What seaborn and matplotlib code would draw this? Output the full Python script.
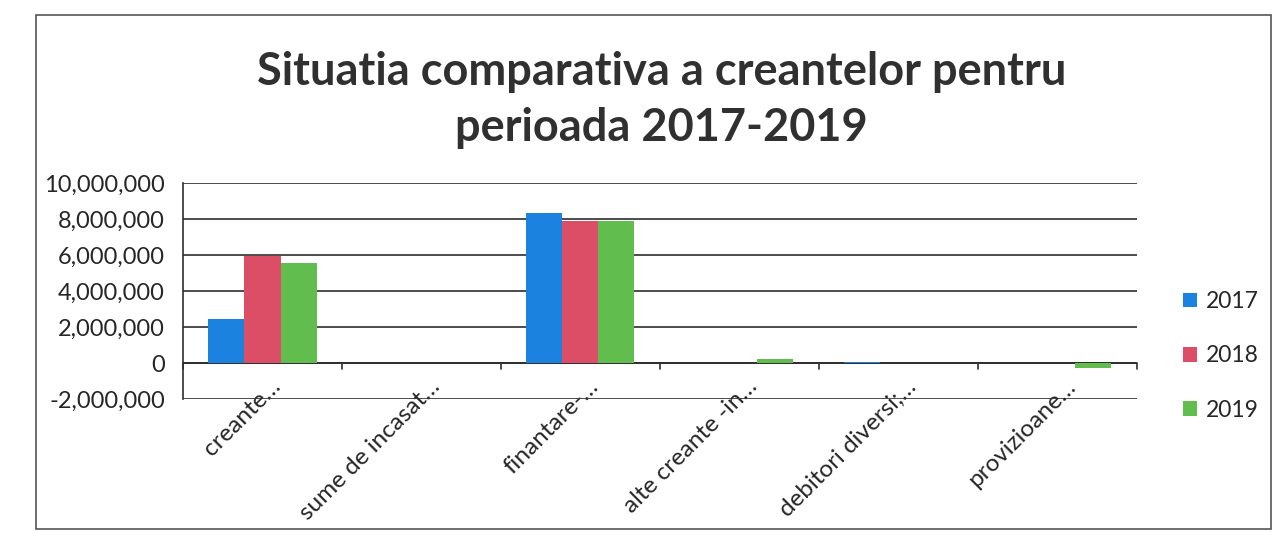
import matplotlib
matplotlib.use("Agg")
import matplotlib.pyplot as plt
import matplotlib.patches as mpatches
import matplotlib.ticker as mticker
import matplotlib.transforms as mtransforms
import seaborn as sns
import pandas as pd

categories = ["creante…", "sume de incasat…", "finantare-…", "alte creante -in…",
              "debitori diversi;…", "provizioane…"]
years = ["2017", "2018", "2019"]
values_2017 = [2440000, 0, 8340000, 0, 80000, 0]
values_2018 = [5940000, 0, 7880000, 0, 0, 0]
values_2019 = [5550000, 0, 7920000, 200000, 0, -280000]
palette = ["#1b82e0", "#dc4d66", "#62bd4f"]

rows = []
for year, vals in zip(years, [values_2017, values_2018, values_2019]):
    for cat, v in zip(categories, vals):
        rows.append({"categorie": cat, "an": year, "valoare": v})
df = pd.DataFrame(rows)

sns.set_style("white")
plt.rcParams["font.family"] = ["Lato", "DejaVu Sans"]

fig = plt.figure(figsize=(12.8, 5.4), dpi=100)
ax = fig.add_axes([0.143, 0.261, 0.745, 0.40])

sns.barplot(data=df, x="categorie", y="valoare", hue="an", palette=palette,
            width=0.68, ax=ax, saturation=1, legend=True, edgecolor="none")

ax.set_ylim(-2000000, 10000000)
ax.set_xlim(-0.5, len(categories) - 0.5)
ax.yaxis.set_major_locator(mticker.MultipleLocator(2000000))
ax.yaxis.set_major_formatter(mticker.FuncFormatter(lambda v, p: f"{int(v):,}"))
ax.grid(axis="y", color="#2e2e2e", linewidth=1.2)
ax.set_axisbelow(True)
for s in ["top", "right", "bottom"]:
    ax.spines[s].set_visible(False)
ax.spines["left"].set_color("#2e2e2e")
ax.spines["left"].set_linewidth(1.2)

# zero axis with category separators
ax.axhline(0, color="#2e2e2e", linewidth=1.3, zorder=0.5)
for i in range(len(categories) + 1):
    ax.plot([i - 0.5, i - 0.5], [0, -330000], color="#2e2e2e", linewidth=1.2,
            clip_on=False)

ax.set_xlabel("")
ax.set_ylabel("")
ax.tick_params(axis="y", labelsize=17, length=5, color="#2e2e2e", pad=8)
ax.tick_params(axis="x", length=0, pad=0)
ax.set_xticks(range(len(categories)))
ax.set_xticklabels(categories, rotation=45, ha="right", va="center",
                   rotation_mode="anchor", fontsize=17.5)
# category labels sit right under the lowest gridline, slightly right of centre
shift = mtransforms.ScaledTranslation(15 / 100, 16 / 100, fig.dpi_scale_trans)
for lbl in ax.get_xticklabels():
    lbl.set_transform(lbl.get_transform() + shift)

leg = ax.legend(loc="center left", bbox_to_anchor=(1.027, 0.2), frameon=False,
                fontsize=16.5, handlelength=0.6, handleheight=0.6,
                handletextpad=0.4, labelspacing=1.45)

fig.text(0.517, 0.815, "Situatia comparativa a creantelor pentru\nperioada 2017-2019",
         ha="center", va="center", fontsize=32.5, fontweight="bold",
         color="#303030", linespacing=1.4)

# chart frame
fig.patches.append(mpatches.Rectangle((0.028, 0.02), 0.965, 0.952,
                                      transform=fig.transFigure, fill=False,
                                      edgecolor="#555555", linewidth=1.2))

fig.savefig("out.png", dpi=100)
